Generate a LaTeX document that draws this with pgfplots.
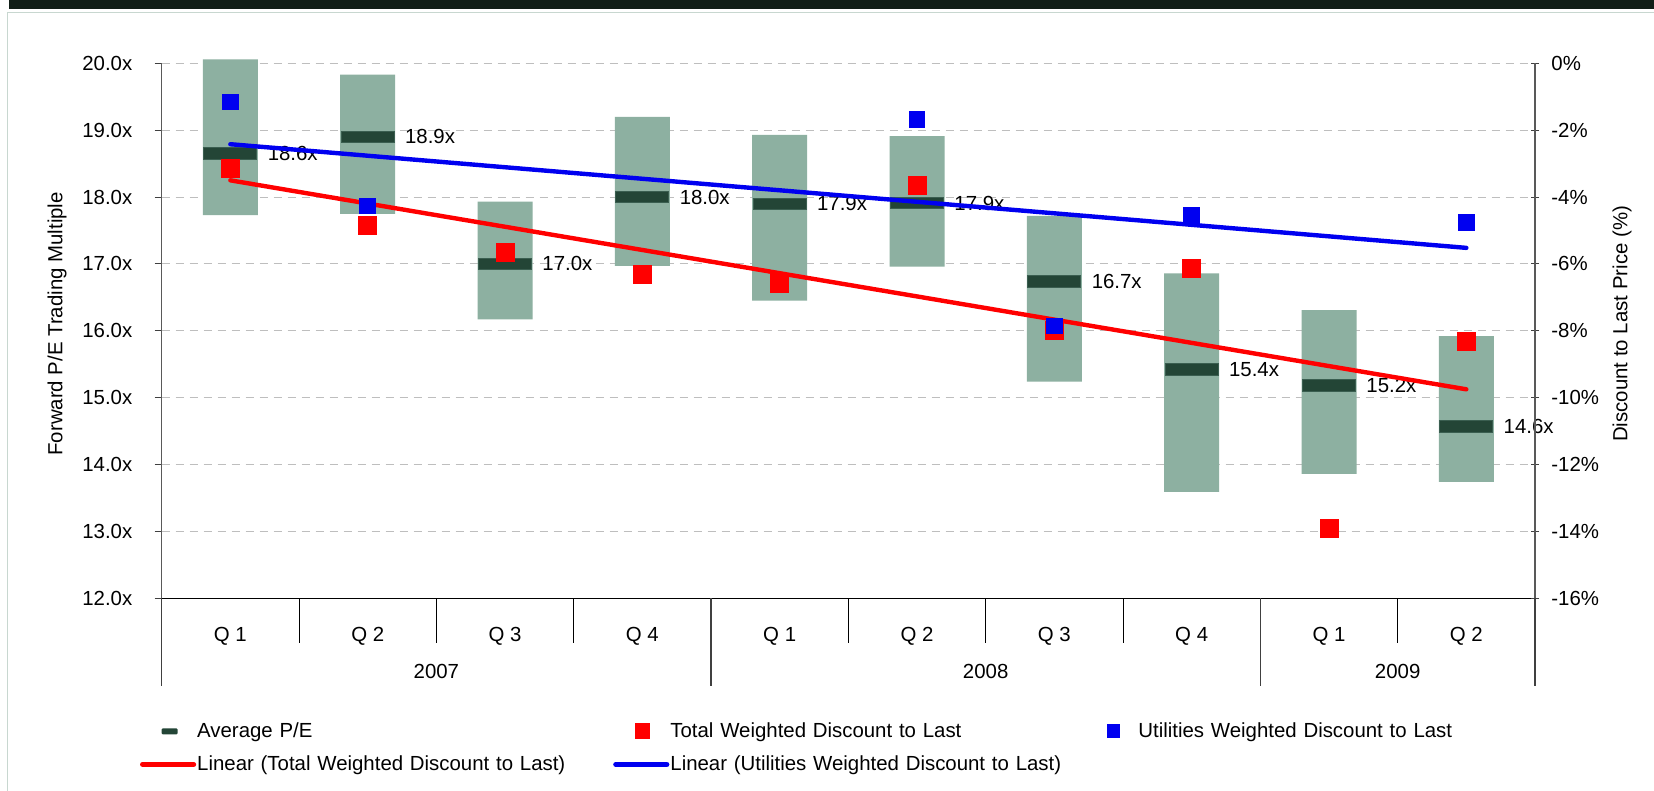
\documentclass[border=0pt]{standalone}
\usepackage{fontspec}
\setmainfont{Liberation Sans}
\usepackage{pgfplots}
\usepackage{pgfplotstable}
\pgfplotsset{compat=1.18}

\definecolor{rangegreen}{HTML}{8DB0A1}
\definecolor{avggreen}{HTML}{234536}
\definecolor{avgedge}{HTML}{3A5E50}
\definecolor{band}{HTML}{111E17}
\definecolor{framec}{HTML}{C8D7D0}
\definecolor{gridgray}{HTML}{BEBEBE}
\definecolor{pred}{HTML}{FF0000}
\definecolor{pblue}{HTML}{0000F0}

\pgfdeclareplotmark{avgbar}{%
  \pgfpathrectangle{\pgfqpoint{-13.25pt}{-2.9pt}}{\pgfqpoint{26.5pt}{5.8pt}}%
  \pgfusepathqfillstroke}

\pgfplotstableread{
x low high
0 17.73 20.06
1 17.75 19.83
2 16.17 17.93
3 16.97 19.20
4 16.45 18.93
5 16.96 18.91
6 15.24 17.72
7 13.59 16.86
8 13.86 16.31
9 13.74 15.92
}\rangetable

\pgfplotstableread{
x avg label
0 18.65 18.6x
1 18.90 18.9x
2 17.00 17.0x
3 18.00 18.0x
4 17.90 17.9x
5 17.91 17.9x
6 16.74 16.7x
7 15.42 15.4x
8 15.18 15.2x
9 14.57 14.6x
}\avgtable

\pgfplotstableread{
x total
0 -3.14
1 -4.85
2 -5.66
3 -6.30
4 -6.58
5 -3.64
6 -7.98
7 -6.13
8 -13.90
9 -8.33
}\totaltable

\pgfplotstableread{
x util
0 -1.16
1 -4.27
5 -1.67
6 -7.85
7 -4.55
9 -4.76
}\utiltable

\pgfplotsset{
  base/.style={at={(80.85pt,96.35pt)}, anchor=south west,
    width=686.65pt, height=267.5pt, scale only axis,
    xmin=-0.5, xmax=9.5, clip=false}
}

\begin{document}
\fontsize{10.2pt}{12pt}\selectfont
\begin{tikzpicture}
\useasboundingbox (0,0) rectangle (827pt,395.5pt);
\fill[white] (0,0) rectangle (827pt,395.5pt);
\fill[band] (4.5pt,390.85pt) rectangle (827pt,395.5pt);
\draw[framec, line width=0.85pt] (3.75pt,0pt) -- (3.75pt,389.25pt) -- (827pt,389.25pt);

% Axis A: left axis, grid, category labels
\begin{axis}[base, ymin=12, ymax=20,
  axis x line*=bottom, axis y line*=left,
  xtick={0,...,9},
  xticklabels={Q 1,Q 2,Q 3,Q 4,Q 1,Q 2,Q 3,Q 4,Q 1,Q 2},
  x tick style={draw=none},
  xticklabel style={anchor=center, yshift=-15.45pt, inner sep=0pt},
  ytick={12,13,14,15,16,17,18,19,20},
  yticklabels={12.0x,13.0x,14.0x,15.0x,16.0x,17.0x,18.0x,19.0x,20.0x},
  y tick style={draw=black!75, line width=0.5pt},
  tick align=outside, major tick length=3.5pt,
  yticklabel style={anchor=east, inner sep=0pt, xshift=-11pt},
  ymajorgrids, grid style={gridgray, dash pattern=on 4pt off 3pt, line width=0.5pt},
  x axis line style={black, line width=0.75pt},
  y axis line style={black!65, line width=0.6pt},
  ylabel={Forward P/E Trading Multiple},
  ylabel style={at={(axis description cs:-0.07624,0.513)}, anchor=center},
]
\pgfplotsinvokeforeach{0.5,1.5,2.5,4.5,5.5,6.5,8.5}{
  \draw[black, line width=0.5pt] (axis cs:#1,12) -- ++(0pt,-22.2pt);
}
\pgfplotsinvokeforeach{-0.5,3.5,7.5,9.5}{
  \draw[black!75, line width=0.55pt] (axis cs:#1,12) -- ++(0pt,-43.85pt);
}
\node at (axis cs:1.5,12) [yshift=-36.7pt] {2007};
\node at (axis cs:5.5,12) [yshift=-36.7pt] {2008};
\node at (axis cs:8.5,12) [yshift=-36.7pt] {2009};
\end{axis}

% Axis B: range bars
\begin{axis}[base, ymin=12, ymax=20, hide axis, ybar stacked, bar width=27.5pt]
\addplot[draw=none, fill=none] table[x=x, y=low] {\rangetable};
\addplot[draw=none, fill=rangegreen] table[x=x, y expr=\thisrow{high}-\thisrow{low}] {\rangetable};
\end{axis}

% Axis C: average P/E markers with labels
\begin{axis}[base, ymin=12, ymax=20, hide axis]
\addplot[only marks, mark=avgbar, mark options={fill=avggreen, draw=avgedge, line width=0.4pt},
  point meta=explicit symbolic,
  nodes near coords={\pgfplotspointmeta},
  nodes near coords style={anchor=west, xshift=18.5pt, inner sep=0pt, text=black}]
  table[x=x, y=avg, meta=label] {\avgtable};
\end{axis}

% Axis D: right axis, discounts, trend lines, legend
\begin{axis}[base, ymin=-16, ymax=0,
  axis y line*=right, axis x line=none,
  ytick={-16,-14,-12,-10,-8,-6,-4,-2,0},
  yticklabels={-16\%,-14\%,-12\%,-10\%,-8\%,-6\%,-4\%,-2\%,0\%},
  y tick style={draw=black!75, line width=0.5pt},
  tick align=center, major tick length=4pt,
  yticklabel style={anchor=west, inner sep=0pt, xshift=6pt},
  y axis line style={black!65, line width=0.6pt},
  ylabel={Discount to Last Price (\%)},
  ylabel style={at={(axis description cs:1.06335,0.513)}, anchor=center},
  legend columns=3,
  legend cell align=left,
  legend style={at={(-0.0158,-0.2301)}, anchor=north west, draw=none, fill=none,
    inner sep=0pt, outer sep=0pt, row sep=6.5pt,
    /tikz/every odd column/.append style={column sep=0.5pt},
    /tikz/every even column/.append style={column sep=0pt},
    nodes={inner sep=0pt, text width=208pt, text height=8pt, text depth=2pt, align=left}},
]
\addlegendimage{legend image code/.code={
  \path[draw=none, fill=none] (0pt,0pt) -- (25.5pt,0pt);
  \fill[avggreen, draw=none, rounded corners=0.6pt] (9.5pt,-1.5pt) rectangle (17.5pt,1.5pt);}}
\addlegendentry{Average P/E}
\addplot[only marks, mark=square*, mark size=4.5pt, color=pred,
  legend image code/.code={
    \path[draw=none, fill=none] (0pt,0pt) -- (25.5pt,0pt);
    \fill[pred, draw=none] (9.75pt,-4pt) rectangle (17.25pt,4pt);}]
  table[x=x, y=total] {\totaltable};
\addlegendentry{Total Weighted Discount to Last}
\addplot[only marks, mark=square*, mark size=3.9pt, color=pblue,
  legend image code/.code={
    \path[draw=none, fill=none] (0pt,0pt) -- (25.5pt,0pt);
    \fill[pblue, draw=none] (10.1pt,-3.5pt) rectangle (16.9pt,3.5pt);}]
  table[x=x, y=util] {\utiltable};
\addlegendentry{Utilities Weighted Discount to Last}
\addplot[pred, line width=2.2pt, line cap=round, no marks,
  legend image code/.code={\draw[pred, line width=2.6pt, line cap=round] (0pt,0pt) -- (25.5pt,0pt);}]
  coordinates {(0,-3.5) (9,-9.75)};
\addlegendentry{Linear (Total Weighted Discount to Last)}
\addplot[pblue, line width=2.2pt, line cap=round, no marks,
  legend image code/.code={\draw[pblue, line width=2.6pt, line cap=round] (0pt,0pt) -- (25.5pt,0pt);}]
  coordinates {(0,-2.42) (9,-5.52)};
\addlegendentry{Linear (Utilities Weighted Discount to Last)}
\end{axis}
\end{tikzpicture}
\end{document}
